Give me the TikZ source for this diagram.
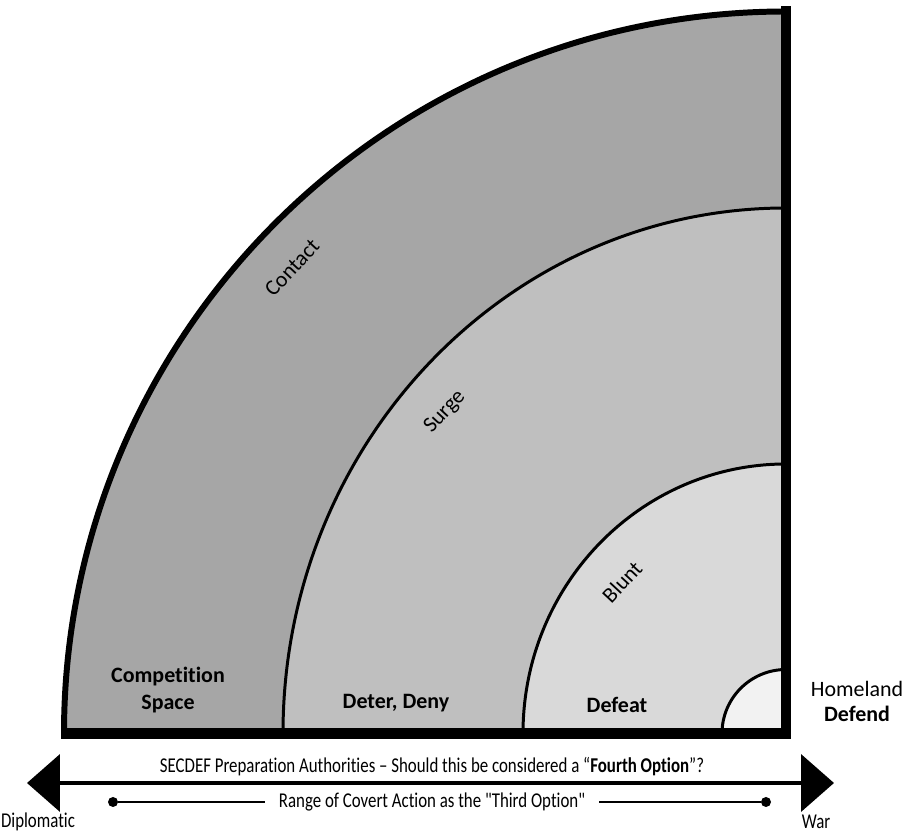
\documentclass[tikz,border=0pt]{standalone}
\usepackage{fontspec}
\setmainfont{Carlito}[Ligatures={TeX,NoCommon}]
\newfontfamily\narrowfont[FakeStretch=0.8, Ligatures={NoCommon}]{Carlito}
\usepackage{tikz}
\usetikzlibrary{arrows.meta,positioning,calc}
\definecolor{contactcol}{HTML}{A6A6A6}
\definecolor{surgecol}{HTML}{BFBFBF}
\definecolor{bluntcol}{HTML}{D9D9D9}
\definecolor{homecol}{HTML}{F2F2F2}

\begin{document}
\begin{tikzpicture}[
  x=0.02cm, y=0.02cm,
  ringline/.style={line width=1.7pt},
  zone/.style={font=\bfseries\fontsize{12.5}{15.5}\selectfont, align=center, inner sep=0pt},
  ringname/.style={font=\fontsize{12.5}{15}\selectfont, rotate=47, inner sep=0pt},
  scaletext/.style={font=\narrowfont\fontsize{12}{14}\selectfont, inner sep=0pt},
  dot/.style={circle, fill=black, inner sep=0pt, minimum size=10*0.02cm}
]
\useasboundingbox (0,0) rectangle (914,832);

% bands, outer to inner
\coordinate (corner) at (786,98.5);
\fill[contactcol] (corner) -- (64,98.5) arc[start angle=180, end angle=90, radius=722] -- cycle;
\fill[surgecol] (corner) -- (283,98.5) arc[start angle=180, end angle=90, x radius=503, y radius=525.5] -- cycle;
\fill[bluntcol] (corner) -- (523,98.5) arc[start angle=180, end angle=90, x radius=263, y radius=269.5] -- cycle;
\fill[homecol] (corner) -- (722,98.5) arc[start angle=180, end angle=90, radius=64] -- cycle;

\draw[line width=3.4pt] (64,98.5) arc[start angle=180, end angle=90, radius=722];
\draw[ringline] (283,98.5) arc[start angle=180, end angle=90, x radius=503, y radius=525.5];
\draw[ringline] (523,98.5) arc[start angle=180, end angle=90, x radius=263, y radius=269.5];
\draw[ringline] (722,98.5) arc[start angle=180, end angle=90, radius=64];
\draw[line width=5.7pt] (61,98.5) -- (corner) -- (786,826);

\node[ringname] (contact) at (292,564) {Contact};
\node[ringname] (surge) at (445,420) {Surge};
\node[ringname] (blunt) at (622,250) {Blunt};

\node[zone] (competition) at (168,142) {Competition\\Space};
\node[zone] (deter) at (396,129) {Deter, Deny};
\node[zone] (defeat) at (617,127) {Defeat};
\node[zone, font=\fontsize{12.5}{15.5}\selectfont] (homeland) at (857,143) {Homeland};
\node[zone, below=9*0.02cm of homeland] (defend) {Defend};

% options scale
\coordinate (diplo) at (27,49);
\coordinate (war) at (834,49);
\draw[line width=2.3pt, {Triangle[length=0.66cm, width=1.14cm]}-{Triangle[length=0.66cm, width=1.14cm]}] (diplo) -- (war);
\node[scaletext] (fourth) at (432,65) {SECDEF Preparation Authorities – Should this be considered a “\textbf{Fourth Option}”?};

\node[dot] (covertl) at (113,30) {};
\node[dot] (covertr) at (766,30) {};
\node[scaletext, inner xsep=14*0.02cm] (third) at (432,30) {Range of Covert Action as the "Third Option"};
\draw[line width=0.6pt] (covertl) -- (third.west);
\draw[line width=0.6pt] (third.east) -- (covertr);

\node[scaletext] (diplomatic) at (38,10) {Diplomatic};
\node[scaletext] (warlabel) at (816,10) {War};
\end{tikzpicture}
\end{document}
